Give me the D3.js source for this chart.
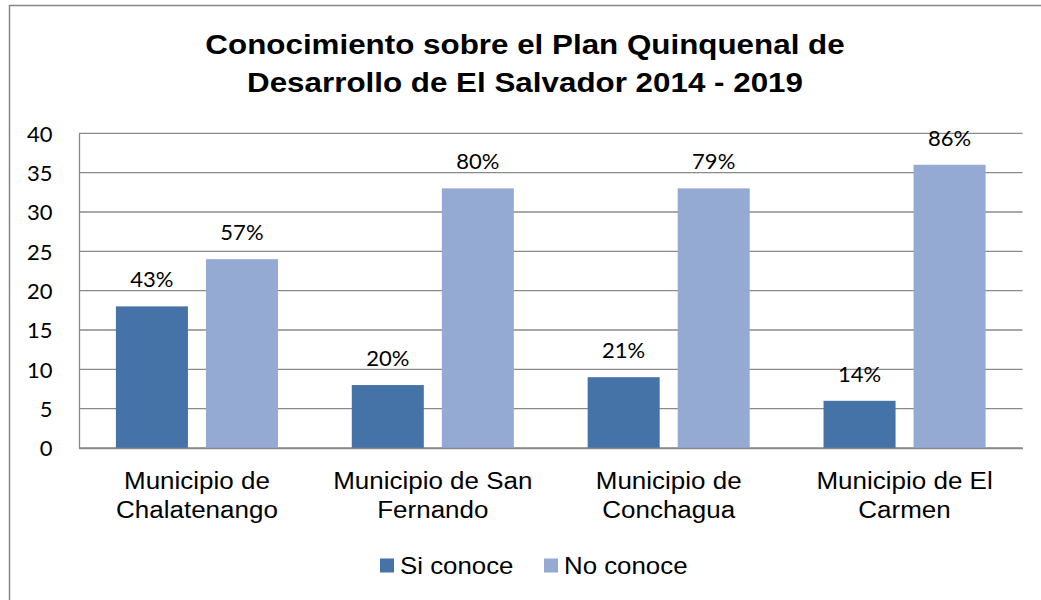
<!DOCTYPE html>
<html><head><meta charset="utf-8">
<script src="https://cdn.jsdelivr.net/npm/d3@7"></script>
<style>html,body{margin:0;padding:0;background:#fff;}</style>
</head><body>
<svg id="chart" width="1041" height="600"></svg>
<script>
const titleLines = ["Conocimiento sobre el Plan Quinquenal de", "Desarrollo de El Salvador 2014 - 2019"];
const categories = ["Chalatenango", "San Fernando", "Conchagua", "El Carmen"];
const categoryLabels = [["Municipio de", "Chalatenango"], ["Municipio de San", "Fernando"], ["Municipio de", "Conchagua"], ["Municipio de El", "Carmen"]];
const seriesNames = ["Si conoce", "No conoce"];
const siConoce = [18, 8, 9, 6];
const noConoce = [24, 33, 33, 36];
const siLabels = ["43%", "20%", "21%", "14%"];
const noLabels = ["57%", "80%", "79%", "86%"];
const yTicks = [0, 5, 10, 15, 20, 25, 30, 35, 40];
const colors = ["#4572a7", "#94aad2"];

const svg = d3.select("#chart");
const sx = 1.12;

// outer border
svg.append("rect").attr("x", 9.5).attr("y", 5.5).attr("width", 1100).attr("height", 700)
  .attr("fill", "#fff").attr("stroke", "#868686").attr("stroke-width", 1.5);

// title
titleLines.forEach((t, i) => {
  svg.append("text").attr("transform", `translate(525,${53.5 + i * 38.5}) scale(${sx},1)`)
    .attr("text-anchor", "middle").attr("font-family", "Liberation Sans, Arial, sans-serif")
    .attr("font-weight", "bold").attr("font-size", 28).attr("fill", "#000").text(t);
});

const x0 = d3.scaleBand().domain(categories).range([79, 1022.5]).padding(0);
const x1 = d3.scaleBand().domain(seriesNames).range([0, x0.bandwidth()]).paddingInner(0.2).paddingOuter(0.41);
const y = d3.scaleLinear().domain([0, 40]).range([448, 133.3]);

// gridlines
svg.append("g").selectAll("line").data(yTicks).join("line")
  .attr("x1", 79).attr("x2", 1022.5).attr("y1", d => y(d)).attr("y2", d => y(d))
  .attr("stroke", "#8a8a8a").attr("stroke-width", 1.3);

// y axis
const yAxis = d3.axisLeft(y).tickValues(yTicks).tickSize(0).tickPadding(0);
const gy = svg.append("g").attr("transform", "translate(79,0)").call(yAxis);
gy.select(".domain").attr("stroke", "#8a8a8a").attr("stroke-width", 1.3);
gy.selectAll("text").attr("x", -26.5).attr("dy", "0.36em")
  .attr("font-family", "Lato, sans-serif").attr("font-size", 22).attr("fill", "#000");

// bars
const data = categories.map((c, i) => ({ c, vals: [
  { s: seriesNames[0], v: siConoce[i], l: siLabels[i] },
  { s: seriesNames[1], v: noConoce[i], l: noLabels[i] } ] }));

const groups = svg.append("g").selectAll("g").data(data).join("g")
  .attr("transform", d => `translate(${x0(d.c)},0)`);
groups.selectAll("rect").data(d => d.vals).join("rect")
  .attr("x", d => x1(d.s)).attr("width", x1.bandwidth())
  .attr("y", d => y(d.v)).attr("height", d => y(0) - y(d.v))
  .attr("fill", (d, i) => colors[i]);
groups.selectAll("text").data(d => d.vals).join("text")
  .attr("x", d => x1(d.s) + x1.bandwidth() / 2).attr("y", d => y(d.v) - 19)
  .attr("text-anchor", "middle").attr("font-family", "Lato, sans-serif").attr("font-size", 22)
  .attr("fill", "#000").text(d => d.l);

// x axis
const xAxis = d3.axisBottom(x0).tickSize(0).tickFormat("");
const gx = svg.append("g").attr("transform", "translate(0,448)").call(xAxis);
gx.select(".domain").attr("stroke", "#8a8a8a").attr("stroke-width", 1.3);

categories.forEach((c, i) => {
  categoryLabels[i].forEach((line, j) => {
    svg.append("text").attr("transform", `translate(${x0(c) + x0.bandwidth() / 2},${488.5 + j * 29}) scale(1.13,1)`)
      .attr("text-anchor", "middle").attr("font-family", "Liberation Sans, Arial, sans-serif")
      .attr("font-size", 23).attr("fill", "#000").text(line);
  });
});

// legend
const legendX = [380, 544];
seriesNames.forEach((s, i) => {
  svg.append("rect").attr("x", legendX[i]).attr("y", 558.5).attr("width", 14).attr("height", 14).attr("fill", colors[i]);
  svg.append("text").attr("transform", `translate(${legendX[i] + 20},573.5) scale(1.1,1)`)
    .attr("font-family", "Liberation Sans, Arial, sans-serif").attr("font-size", 23.5)
    .attr("fill", "#000").text(s);
});
</script>
</body></html>
